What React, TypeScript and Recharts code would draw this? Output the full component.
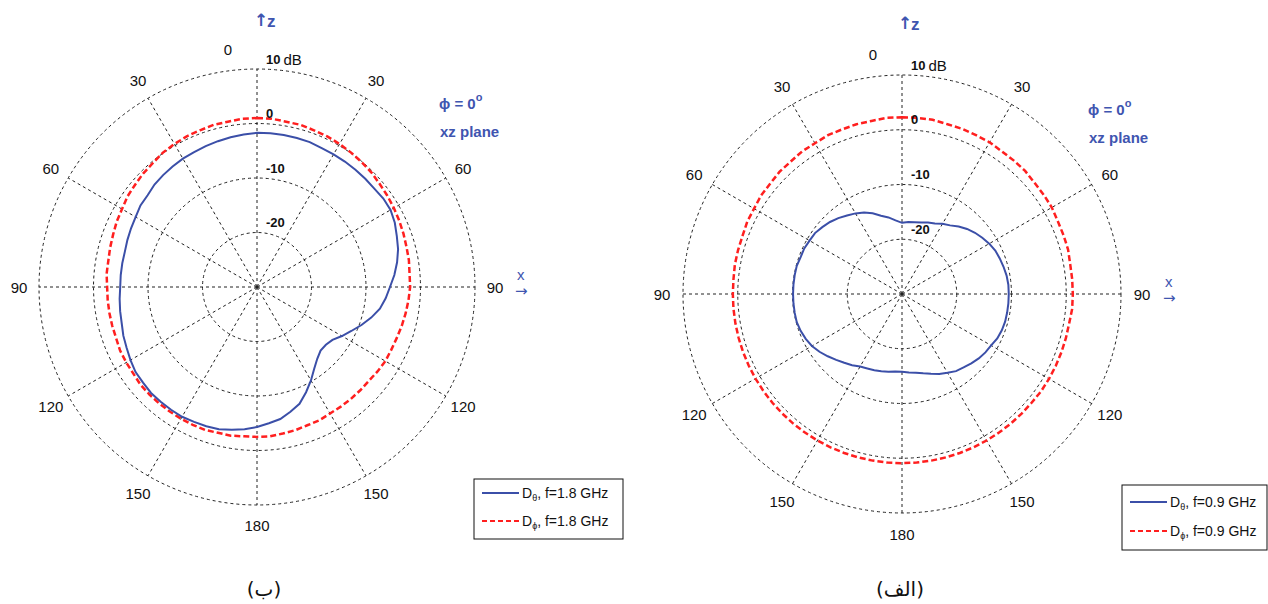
import React from "react";
import {
  RadarChart,
  Radar,
  PolarGrid,
  PolarAngleAxis,
  PolarRadiusAxis,
} from "recharts";

// theta measured clockwise from +z (top), 5 degree steps
const angles = [
  0, 5, 10, 15, 20, 25, 30, 35, 40, 45, 50, 55, 60, 65, 70, 75, 80, 85,
  90, 95, 100, 105, 110, 115, 120, 125, 130, 135, 140, 145, 150, 155, 160, 165, 170, 175,
  180, 185, 190, 195, 200, 205, 210, 215, 220, 225, 230, 235, 240, 245, 250, 255, 260, 265,
  270, 275, 280, 285, 290, 295, 300, 305, 310, 315, 320, 325, 330, 335, 340, 345, 350, 355,
];

// f = 1.8 GHz (left panel)
const dTheta18 = [
  -1.7, -1.7, -1.7, -1.7, -1.7, -1.9, -1.9, -1.9, -1.9, -1.9, -1.9, -1.7, -1.7, -2.1, -2.7, -3.2, -3.9, -4.7,
  -5.6, -6.3, -7.1, -8.3, -9.6, -10.9, -12.0, -13.1, -13.5, -13.5, -12.8, -11.7, -10.2, -8.7, -7.2, -6.3, -5.4, -4.9,
  -4.3, -3.8, -3.4, -3.0, -2.8, -2.7, -2.5, -2.5, -2.5, -2.5, -2.7, -2.8, -3.2, -3.6, -3.9, -4.3, -4.5, -4.7,
  -4.9, -4.9, -4.9, -4.9, -4.7, -4.5, -4.3, -3.9, -3.8, -3.4, -3.2, -3.0, -2.8, -2.7, -2.5, -2.3, -2.1, -1.9,
];
const dPhi18 = [
  1.0, 1.0, 0.8, 0.8, 0.6, 0.5, 0.3, 0.1, -0.1, -0.3, -0.6, -0.8, -1.0, -1.2, -1.4, -1.6, -1.7, -1.9,
  -1.9, -2.1, -2.3, -2.5, -2.7, -2.8, -2.8, -3.0, -3.2, -3.2, -3.2, -3.2, -3.2, -3.0, -3.0, -2.8, -2.7, -2.5,
  -2.5, -2.5, -2.3, -2.3, -2.1, -2.1, -2.1, -2.1, -2.1, -2.1, -2.1, -2.3, -2.3, -2.3, -2.5, -2.5, -2.5, -2.5,
  -2.5, -2.3, -2.3, -2.1, -1.9, -1.6, -1.4, -1.0, -0.8, -0.5, -0.3, 0.1, 0.3, 0.5, 0.6, 0.8, 0.8, 1.0,
];

// f = 0.9 GHz (right panel)
const dTheta09 = [
  -17.0, -16.8, -16.7, -16.5, -16.1, -15.8, -15.2, -14.7, -13.9, -13.2, -12.6, -12.1, -11.6, -11.2, -11.0, -10.8, -10.6, -10.5,
  -10.5, -10.5, -10.5, -10.5, -10.6, -10.8, -11.2, -11.4, -11.7, -12.1, -12.5, -12.8, -13.4, -13.9, -14.5, -15.0, -15.4, -15.6,
  -15.8, -15.8, -15.6, -15.4, -15.2, -15.0, -14.7, -14.1, -13.6, -13.0, -12.3, -11.6, -11.0, -10.6, -10.3, -10.1, -10.1, -10.1,
  -10.1, -10.1, -10.1, -10.1, -10.3, -10.3, -10.5, -10.6, -11.0, -11.4, -11.9, -12.5, -13.0, -13.6, -14.3, -15.2, -15.8, -16.5,
];
const dPhi09 = [
  2.3, 2.3, 2.3, 2.1, 2.1, 2.0, 2.0, 1.8, 1.8, 1.8, 1.6, 1.6, 1.6, 1.4, 1.4, 1.4, 1.2, 1.2,
  1.2, 1.2, 1.0, 1.0, 1.0, 1.0, 1.0, 1.0, 0.9, 0.9, 0.9, 0.9, 0.9, 0.9, 0.9, 0.9, 0.9, 0.9,
  0.9, 0.9, 0.9, 0.9, 0.9, 0.9, 0.9, 0.9, 0.9, 0.9, 0.9, 0.9, 0.9, 0.9, 0.9, 0.9, 0.9, 0.9,
  0.9, 0.9, 1.0, 1.0, 1.0, 1.2, 1.2, 1.4, 1.4, 1.6, 1.6, 1.8, 1.8, 2.0, 2.0, 2.1, 2.1, 2.3,
];

const radiusTicks = [-30, -20, -10, 0, 10];
const gridAngles = [0, 30, 60, 90, 120, 150, 180, 210, 240, 270, 300, 330];

const BLUE = "#3b4fa8";
const RED = "#ff1f1f";
const LABEL_BLUE = "#3f55b0";
const FONT = "'Liberation Sans', Arial, sans-serif";
const ARROW_FONT = "'DejaVu Sans', sans-serif";

const rows18 = angles.map((a, i) => ({ angle: a, theta: dTheta18[i], phi: dPhi18[i] }));
const rows09 = angles.map((a, i) => ({ angle: a, theta: dTheta09[i], phi: dPhi09[i] }));

type PanelProps = {
  left: number;
  cx: number;
  cy: number;
  radius: number;
  labelR: number;
  data: Array<{ angle: number; theta: number; phi: number }>;
};

function PolarPanel({ left, cx, cy, radius, labelR, data }: PanelProps) {
  const angleTick = (props: any) => {
    const v = Number(props.payload.value);
    if (v % 30 !== 0) return <g />;
    const rad = (v * Math.PI) / 180;
    let x = cx + labelR * Math.sin(rad);
    const y = cy - labelR * Math.cos(rad);
    if (v === 0) x -= 29;
    return (
      <text x={x} y={y} textAnchor="middle" dominantBaseline="central" fontSize={15} fill="#111" fontFamily={FONT}>
        {v <= 180 ? v : 360 - v}
      </text>
    );
  };

  const radiusTick = (props: any) => {
    const v = Number(props.payload.value);
    if (v === -30) return <g />;
    const x = props.x + 9;
    const y = props.y - 10;
    if (v === 10) {
      return (
        <text x={x} y={y} dominantBaseline="central" fill="#111" fontFamily={FONT}>
          <tspan fontWeight="bold" fontSize={13}>10</tspan>
          <tspan fontSize={15} dx={3}>dB</tspan>
        </text>
      );
    }
    return (
      <text x={x} y={y} dominantBaseline="central" fill="#111" fontFamily={FONT} fontWeight="bold" fontSize={13}>
        {v}
      </text>
    );
  };

  return (
    <div style={{ position: "absolute", left, top: 0 }}>
      <RadarChart
        width={634}
        height={604}
        data={data}
        cx={cx}
        cy={cy}
        outerRadius={radius}
        margin={{ top: 0, right: 0, bottom: 0, left: 0 }}
      >
        <PolarGrid
          gridType="circle"
          polarAngles={gridAngles}
          stroke="#222"
          strokeDasharray="3 3"
          strokeWidth={1}
        />
        <PolarAngleAxis dataKey="angle" axisLine={false} tickLine={false} tick={angleTick} />
        <PolarRadiusAxis
          angle={90}
          type="number"
          domain={[-30, 10]}
          ticks={radiusTicks}
          axisLine={false}
          tick={radiusTick}
        />
        <Radar
          dataKey="phi"
          stroke={RED}
          strokeWidth={2.5}
          strokeDasharray="6 3"
          fill="none"
          fillOpacity={0}
          dot={false}
          isAnimationActive={false}
        />
        <Radar
          dataKey="theta"
          stroke={BLUE}
          strokeWidth={2}
          fill="none"
          fillOpacity={0}
          dot={false}
          isAnimationActive={false}
        />
      </RadarChart>
    </div>
  );
}

function LegendBox({ x, y, w, h, freq, row1, row2 }: { x: number; y: number; w: number; h: number; freq: string; row1: number; row2: number }) {
  return (
    <g fontFamily={FONT} fontSize={14} fill="#111">
      <rect x={x} y={y} width={w} height={h} fill="#fff" stroke="#111" strokeWidth={1} />
      <line x1={x + 8} x2={x + 45} y1={y + row1} y2={y + row1} stroke={BLUE} strokeWidth={2} />
      <line x1={x + 8} x2={x + 45} y1={y + row2} y2={y + row2} stroke={RED} strokeWidth={2} strokeDasharray="5 3" />
      <text x={x + 48} y={y + row1} dominantBaseline="central">
        D<tspan fontSize={9} dy={5}>θ</tspan><tspan dy={-5}>, f={freq} GHz</tspan>
      </text>
      <text x={x + 48} y={y + row2} dominantBaseline="central">
        D<tspan fontSize={9} dy={5}>ϕ</tspan><tspan dy={-5}>, f={freq} GHz</tspan>
      </text>
    </g>
  );
}

function AxisMarks({ zx, zy, xx, xy, px, py }: { zx: number; zy: number; xx: number; xy: number; px: number; py: number }) {
  const blueBold = { fill: LABEL_BLUE, fontFamily: FONT, fontWeight: "bold" as const };
  return (
    <g>
      <text x={zx} y={zy} dominantBaseline="central" fontSize={17} fill={LABEL_BLUE} fontFamily={ARROW_FONT} fontWeight="bold">↑</text>
      <text x={zx + 13} y={zy + 1} dominantBaseline="central" fontSize={17} {...blueBold}>z</text>
      <text x={px} y={py} dominantBaseline="central" fontSize={15} {...blueBold}>
        ϕ = 0<tspan fontSize={11} dy={-6}>o</tspan>
      </text>
      <text x={px + 1} y={py + 28} dominantBaseline="central" fontSize={15} {...blueBold}>xz plane</text>
      <text x={xx} y={xy} dominantBaseline="central" fontSize={15} fill={LABEL_BLUE} fontFamily={FONT}>x</text>
      <text x={xx - 2} y={xy + 17} dominantBaseline="central" fontSize={15} fill={LABEL_BLUE} fontFamily={ARROW_FONT}>→</text>
    </g>
  );
}

function Annotations() {
  return (
    <svg width={1268} height={604} style={{ position: "absolute", left: 0, top: 0, pointerEvents: "none" }}>
      {/* left panel */}
      <AxisMarks zx={254} zy={20} xx={517} xy={274} px={439} py={103} />
      <LegendBox x={474} y={479} w={149} h={60} freq="1.8" row1={14} row2={42} />
      <text x={264} y={589} textAnchor="middle" dominantBaseline="central" fontSize={20} fontFamily="'DejaVu Sans', sans-serif" fill="#111">(ب)</text>

      {/* right panel */}
      <AxisMarks zx={898} zy={23} xx={1165} xy={281} px={1088} py={109} />
      <LegendBox x={1122} y={485} w={145} h={65} freq="0.9" row1={17} row2={46} />
      <text x={900} y={589} textAnchor="middle" dominantBaseline="central" fontSize={20} fontFamily="'DejaVu Sans', sans-serif" fill="#111">(الف)</text>
    </svg>
  );
}

export default function App() {
  return (
    <div style={{ position: "absolute", left: 0, top: 0, width: 1268, height: 604, background: "#fff", overflow: "hidden" }}>
      <PolarPanel left={0} cx={257} cy={287} radius={218} labelR={238} data={rows18} />
      <PolarPanel left={634} cx={268} cy={294} radius={219} labelR={240} data={rows09} />
      <Annotations />
    </div>
  );
}
